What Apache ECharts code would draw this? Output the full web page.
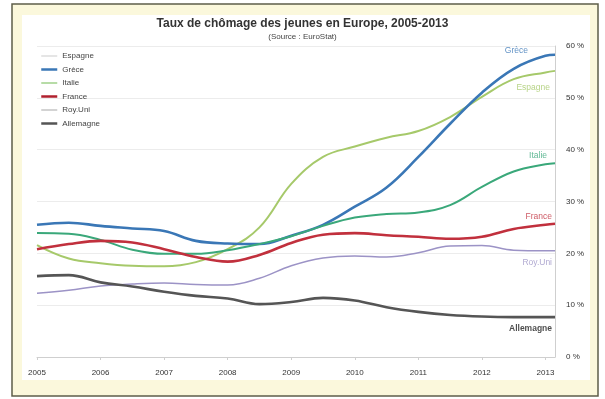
<!DOCTYPE html>
<html><head><meta charset="utf-8">
<script src="https://cdn.jsdelivr.net/npm/echarts@6/dist/echarts.min.js"></script>
<style>html,body{margin:0;padding:0;background:#fff}#c{width:605px;height:399px}</style>
</head><body><div id="c"></div>
<script>
// Time points (half-years; lines run slightly past the 2013 label)
const periods = [2005, 2005.5, 2006, 2006.5, 2007, 2007.5, 2008, 2008.5, 2009, 2009.5, 2010, 2010.5, 2011, 2011.5, 2012, 2012.5, 2013, 2013.15];
const yearTicks = [2005, 2006, 2007, 2008, 2009, 2010, 2011, 2012, 2013];
const countries = ['Espagne', 'Grèce', 'Italie', 'France', 'Roy.Uni', 'Allemagne'];
// Youth unemployment rates (%)
const espagne   = [21.6, 19.0, 18.1, 17.6, 17.5, 18.3, 20.8, 25.0, 33.4, 38.6, 40.6, 42.3, 43.6, 46.3, 50.2, 53.6, 54.9, 55.2];
const grece     = [25.5, 25.9, 25.3, 24.8, 24.3, 22.4, 21.9, 21.8, 23.4, 25.5, 29.0, 32.7, 38.6, 45.0, 51.0, 55.6, 58.1, 58.3];
const italie    = [23.9, 23.8, 22.6, 20.7, 19.9, 19.9, 20.6, 21.8, 23.3, 25.3, 26.9, 27.6, 27.9, 29.3, 32.8, 35.8, 37.2, 37.4];
const france    = [20.8, 21.8, 22.4, 22.1, 20.8, 19.3, 18.4, 19.7, 22.0, 23.6, 23.9, 23.5, 23.2, 22.8, 23.2, 24.7, 25.5, 25.7];
const royUni    = [12.3, 12.9, 13.7, 14.1, 14.3, 14.0, 13.9, 15.2, 17.6, 19.1, 19.5, 19.3, 20.1, 21.4, 21.5, 20.6, 20.5, 20.5];
const allemagne = [15.6, 15.8, 14.4, 13.6, 12.6, 11.8, 11.3, 10.2, 10.6, 11.4, 10.9, 9.6, 8.7, 8.1, 7.8, 7.7, 7.7, 7.7];
const yTicks = [0, 10, 20, 30, 40, 50, 60];

const values = [espagne, grece, italie, france, royUni, allemagne];
const lineColors = ['#a6c96a', '#3a77b6', '#3aa87a', '#c1303d', '#9c93c6', '#555555'];
const lineWidths = [2, 2.6, 2, 2.6, 1.5, 2.6];
const legendColors = ['#dcdcdc', '#3a77b6', '#9fd08a', '#b0202e', '#c4c4c4', '#555555'];
const legendWidths = [1.5, 2.5, 1.5, 2.5, 1.5, 2.5];
const endLabelOffsets = [[-5, 17], [-27, -4], [-8, -7], [-3, -7], [-3, 12], [-3, 12]];
const endLabelColors = ['#a6c96a', '#3a77b6', '#3aa87a', '#c1303d', '#9c93c6', '#222222'];

const FONT = 'Liberation Sans';
const chart = echarts.init(document.getElementById('c'), null, {renderer: 'canvas'});

const lineSeries = countries.map((name, i) => ({
  name: name,
  type: 'line',
  smooth: 0.4,
  symbol: 'none',
  lineStyle: {color: lineColors[i], width: lineWidths[i]},
  itemStyle: {color: lineColors[i]},
  data: periods.map((p, k) => [p, values[i][k]]),
  z: 3
}));

const last = periods.length - 1;
const labelSeries = {
  type: 'scatter',
  symbolSize: 1,
  itemStyle: {color: 'rgba(0,0,0,0)'},
  silent: true,
  z: 5,
  data: countries.map((name, i) => ({
    name: name,
    value: [periods[last], values[i][last]],
    label: {
      show: true,
      position: 'inside',
      align: 'right',
      verticalAlign: 'middle',
      offset: endLabelOffsets[i],
      formatter: name,
      color: endLabelColors[i],
      fontSize: 8.5,
      fontWeight: i === 5 ? 'bold' : 'normal',
      fontFamily: FONT
    }
  }))
};

chart.setOption({
  backgroundColor: '#ffffff',
  animation: false,
  graphic: [
    {type: 'rect', z: -10, shape: {x: 12, y: 4, width: 586, height: 392},
     style: {fill: '#fbf8dc', stroke: '#5e5d4a', lineWidth: 1.5}},
    {type: 'rect', z: -9, shape: {x: 22, y: 15, width: 568, height: 365},
     style: {fill: '#ffffff'}}
  ],
  title: {
    text: 'Taux de chômage des jeunes en Europe, 2005-2013',
    subtext: '(Source : EuroStat)',
    left: 'center',
    top: 13,
    itemGap: 3,
    textStyle: {fontSize: 12, fontWeight: 'bold', color: '#333', fontFamily: FONT},
    subtextStyle: {fontSize: 8, color: '#444', fontFamily: FONT}
  },
  legend: {
    orient: 'vertical',
    left: 40,
    top: 52,
    padding: 0,
    itemWidth: 16,
    itemHeight: 8,
    itemGap: 5.5,
    textStyle: {fontSize: 8, color: '#444', fontFamily: FONT},
    data: countries.map((name, i) => ({
      name: name,
      itemStyle: {color: legendColors[i], opacity: 0},
      lineStyle: {color: legendColors[i], width: legendWidths[i], opacity: 1}
    }))
  },
  grid: {left: 37, right: 50, top: 46, bottom: 42, containLabel: false},
  xAxis: {
    type: 'value',
    min: yearTicks[0],
    max: periods[last],
    interval: 1,
    axisLine: {lineStyle: {color: '#cfcfcf'}},
    axisTick: {show: true, length: 3, lineStyle: {color: '#cfcfcf'}},
    splitLine: {show: false},
    axisLabel: {
      showMaxLabel: false,
      margin: 12,
      fontSize: 8,
      color: '#333',
      fontFamily: FONT,
      formatter: v => (yearTicks.indexOf(v) >= 0 ? String(v) : '')
    }
  },
  yAxis: {
    type: 'value',
    position: 'right',
    min: yTicks[0],
    max: yTicks[yTicks.length - 1],
    interval: 10,
    axisLine: {show: true, lineStyle: {color: '#cfcfcf'}},
    axisTick: {show: false},
    splitLine: {show: true, lineStyle: {color: '#ececec', width: 1}},
    axisLabel: {margin: 11, fontSize: 8, color: '#333', fontFamily: FONT, formatter: '{value} %'}
  },
  series: lineSeries.concat([labelSeries])
});
</script>
</body></html>
